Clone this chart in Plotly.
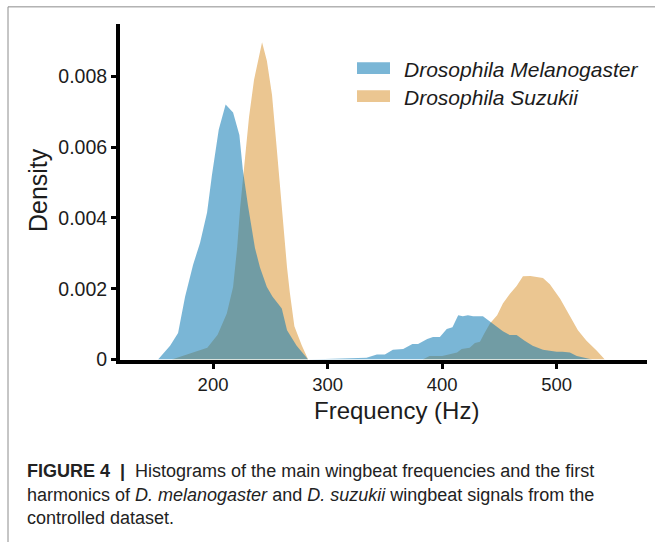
import plotly.graph_objects as go

# ---- data ----
mel_freq = [152, 162.5, 169.5, 175.6, 182.6, 188.7, 194.8, 199, 205, 211, 217.5, 223, 226, 230.5,
            236.6, 241, 247, 252, 260, 264.6, 273, 283,
            334, 343, 350, 357, 366, 374, 379, 387, 392, 398, 404, 409, 414, 418, 422.5, 427,
            435.6, 441.7, 447.6, 453, 459, 465, 472, 479, 488, 500, 505, 511.5, 517.5, 526, 531]
mel_dens = [0, 0.00039, 0.00075, 0.00177, 0.00268, 0.0033, 0.00415, 0.0052, 0.0065, 0.0072,
            0.00698, 0.00634, 0.00537, 0.00435, 0.00315, 0.0026, 0.00205, 0.00177, 0.00144,
            0.00083, 0.00039, 0,
            0.00005, 0.00014, 0.00014, 0.00028, 0.0003, 0.00044, 0.00044, 0.00058, 0.00064,
            0.00064, 0.00086, 0.00091, 0.00125, 0.00122, 0.00125, 0.00122, 0.00122, 0.00108,
            0.00094, 0.0008, 0.00069, 0.00069, 0.00053, 0.00039, 0.00028, 0.00022, 0.00022,
            0.0002, 0.0001, 0.00003, 0]

suz_freq = [164, 174, 195, 204, 212, 217.5, 221, 223.6, 228, 231.4, 235.8, 242.8, 247, 251.5,
            255.8, 260, 264.6, 267, 271, 277.5, 283,
            383, 389, 400, 413, 417, 424, 428.6, 433, 437, 441.7, 448, 453, 459, 465, 470.5,
            477, 488, 494, 503, 511.5, 518.5, 526, 535, 542]
suz_dens = [0, 0.0001, 0.00033, 0.0007, 0.0013, 0.00205, 0.00315, 0.00426, 0.0057, 0.00684,
            0.0079, 0.00896, 0.00844, 0.00747, 0.0059, 0.00426, 0.0026, 0.0019, 0.00094, 0.0004, 0,
            0, 0.0001, 0.0001, 0.0002, 0.0003, 0.00033, 0.00047, 0.0005, 0.00075, 0.00102,
            0.00125, 0.00158, 0.00185, 0.00208, 0.00235, 0.00236, 0.0023, 0.00213, 0.00172,
            0.00125, 0.00083, 0.00053, 0.00025, 0]

series_names = ["Drosophila Melanogaster", "Drosophila Suzukii"]
x_ticks = [200, 300, 400, 500]
y_ticks = [0, 0.002, 0.004, 0.006, 0.008]
y_ticktext = ["0", "0.002", "0.004", "0.006", "0.008"]

W, H = 655, 542
BLUE = "rgba(13,122,180,0.55)"
ORANGE = "rgb(235,198,145)"
FONT = "Liberation Sans, Arial, sans-serif"
TXT = "#1c1c1c"

def px(x):
    return x / W

def py(y):
    return 1 - y / H

fig = go.Figure()
fig.add_trace(go.Scatter(x=suz_freq, y=suz_dens, mode="lines", fill="tozeroy",
                         fillcolor=ORANGE, line=dict(width=0, color=ORANGE),
                         name=series_names[1], showlegend=False, hoverinfo="skip"))
fig.add_trace(go.Scatter(x=mel_freq, y=mel_dens, mode="lines", fill="tozeroy",
                         fillcolor=BLUE, line=dict(width=0, color=BLUE),
                         name=series_names[0], showlegend=False, hoverinfo="skip"))

fig.update_layout(
    width=W, height=H,
    margin=dict(l=0, r=0, t=0, b=0),
    paper_bgcolor="white", plot_bgcolor="white",
    font=dict(family=FONT, color=TXT),
    xaxis=dict(domain=[px(120), px(647)], range=[118.8, 578.8],
               showline=True, linewidth=4, linecolor="black",
               ticks="outside", ticklen=5, tickwidth=3, tickcolor="black",
               tickvals=x_ticks, tickfont=dict(size=18.5, color=TXT),
               showgrid=False, zeroline=False),
    yaxis=dict(domain=[py(367), py(24)], range=[0, 0.00949],
               showline=True, linewidth=4, linecolor="black",
               ticks="outside", ticklen=5, tickwidth=3, tickcolor="black",
               tickvals=y_ticks, ticktext=y_ticktext, tickfont=dict(size=19.5, color=TXT),
               showgrid=False, zeroline=False),
)

# frame around figure
fig.add_shape(type="rect", xref="paper", yref="paper",
              x0=px(8), x1=1.05, y0=-0.05, y1=py(7),
              line=dict(color="#8c8c8c", width=1), fillcolor="rgba(0,0,0,0)", layer="below")

# axis titles
fig.add_annotation(text="Frequency (Hz)", xref="paper", yref="paper", x=px(396), y=py(419),
                   showarrow=False, font=dict(size=24, color=TXT), xanchor="center", yanchor="middle")
fig.add_annotation(text="Density", xref="paper", yref="paper", x=px(38), y=py(194), textangle=-90,
                   showarrow=False, font=dict(size=25, color=TXT), xanchor="center", yanchor="middle")

# legend (manual)
leg = [(series_names[0], "rgb(122,182,214)", 69.5), (series_names[1], ORANGE, 98)]
for name, col, yc in leg:
    fig.add_shape(type="rect", xref="paper", yref="paper",
                  x0=px(357), x1=px(390), y0=py(yc + 6), y1=py(yc - 6),
                  line=dict(width=0), fillcolor=col)
    fig.add_annotation(text="<i>" + name + "</i>", xref="paper", yref="paper",
                       x=px(402), y=py(yc + 1.5), showarrow=False, xanchor="left", yanchor="middle",
                       font=dict(size=21, color=TXT))

# caption
cap = ["<b>FIGURE 4</b>  <b>|</b>  Histograms of the main wingbeat frequencies and the first",
       "harmonics of <i>D. melanogaster</i> and <i>D. suzukii</i> wingbeat signals from the",
       "controlled dataset."]
for i, line in enumerate(cap):
    fig.add_annotation(text=line, xref="paper", yref="paper", x=px(25), y=py(481 + 24 * i),
                       showarrow=False, xanchor="left", yanchor="middle",
                       font=dict(size=18, color="#222222"))

fig.write_html("out.html")
